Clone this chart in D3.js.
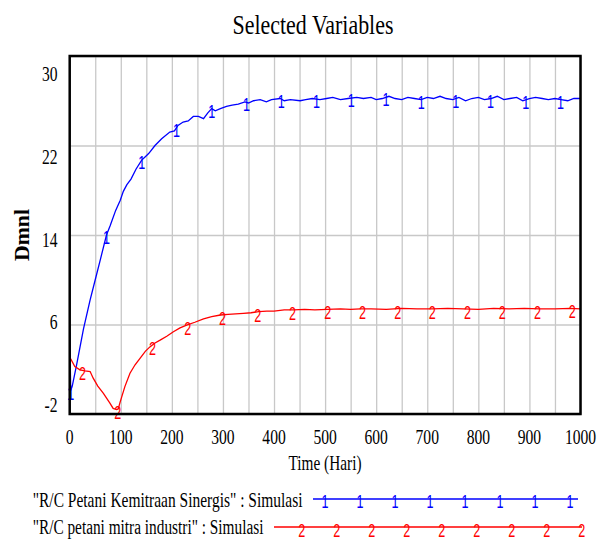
<!DOCTYPE html>
<html><head><meta charset="utf-8">
<script src="https://cdn.jsdelivr.net/npm/d3@7"></script>
<style>html,body{margin:0;padding:0;background:#fff;}</style>
</head><body>
<svg id="chart" width="599" height="540"></svg>
<script>
// ---- data ----
const titleText = "Selected Variables";
const xLabel = "Time (Hari)";
const yLabel = "Dmnl";
const xTicks = [0,100,200,300,400,500,600,700,800,900,1000];
const xGrid = [0,50,100,150,200,250,300,350,400,450,500,550,600,650,700,750,800,850,900,950,1000];
const yTicks = [-2,6,14,22,30];
const seriesNames = ["\"R/C Petani Kemitraan Sinergis\" : Simulasi", "\"R/C petani mitra industri\" : Simulasi"];
const seriesMarks = ["1","2"];
const seriesColors = ["#0000ff","#ff0000"];

const blueT = [0,2,5,14,27,40,50,60,72,79,90,99,105,112,120,130,141,148,155,167,180,196,205,212,222,232,242,252,262,270,278,285,295,307,318,330,343,350,360,373,385,395,412,420,432,451,462,475,490,503,515,530,545,562,575,590,600,612,625,637,650,662,675,688,700,712,725,737,750,762,775,787,800,812,825,837,850,862,875,887,900,912,925,937,950,962,975,987,1000];
const blueV = [5.3,0.1,0.5,2.5,5.6,8.2,10.0,11.8,14.0,14.8,16.2,17.1,17.9,18.5,19.0,19.9,20.7,21.0,21.3,22.0,22.6,23.2,23.3,23.8,24.1,24.2,24.6,24.6,24.4,24.9,25.3,25.1,25.3,25.5,25.6,25.7,25.9,25.8,26.0,26.1,25.9,26.1,26.2,26.0,26.1,26.0,26.1,26.2,26.1,26.2,26.3,26.1,26.2,26.3,26.2,26.3,26.1,26.2,26.4,26.2,26.1,26.3,26.2,26.1,26.3,26.2,26.4,26.2,26.1,26.3,26.0,26.2,26.3,26.1,26.2,26.4,26.1,26.2,26.3,26.0,26.2,26.3,26.2,26.1,26.2,26.1,26.0,26.2,26.2];

const redT = [0,10,20,30,40,46,55,66,79,85,92,95,99,108,118,128,138,148,157,167,177,190,203,216,229,245,262,278,295,310,325,340,355,370,386,400,420,438,460,480,504,530,550,569,590,620,650,680,710,740,770,800,830,860,890,920,950,980,1000];
const redV = [3.1,2.25,1.95,1.85,1.8,1.2,0.5,-0.15,-1.05,-1.5,-1.6,-1.55,-0.9,0.45,1.65,2.4,3.0,3.6,4.0,4.35,4.6,4.95,5.35,5.7,5.95,6.2,6.5,6.7,6.85,6.9,6.95,7.0,7.05,7.15,7.2,7.2,7.3,7.3,7.35,7.3,7.35,7.4,7.35,7.4,7.4,7.35,7.45,7.4,7.4,7.45,7.4,7.35,7.45,7.4,7.45,7.4,7.4,7.45,7.4];

// marker times along each series
const blueMarkT = [2,72,141,209,278,346,414,483,551,619,688,756,824,893,961];
const redMarkT = [25,94,162,231,299,368,436,505,573,642,710,779,847,916,984];

// ---- layout ----
const svg = d3.select("#chart");
const L = 69.7, R = 580.5, T = 56, B = 414;
const x = d3.scaleLinear().domain([0,1000]).range([L,R]);
const y = d3.scaleLinear().domain([-2,30]).range([B,T]);
const yLab = d3.scaleLinear().domain([30,-2]).range([81,412]);
const SERIF = "Liberation Serif, Times New Roman, serif";
const SANS = "Liberation Sans, Arial, sans-serif";

function txt(g, s, px, py, o){
  const t = g.append("text")
    .attr("text-anchor", o.anchor||"start")
    .attr("font-family", o.family||SERIF)
    .attr("font-size", o.size||20)
    .attr("font-weight", o.weight||"normal")
    .attr("fill", o.fill||"#000")
    .text(s);
  let sx = o.sx||1;
  if(o.w){ const nat = t.node().getComputedTextLength(); sx = o.w/nat; }
  t.attr("transform", `translate(${px},${py})` + (o.rot?` rotate(${o.rot})`:"") + ` scale(${sx},1)`);
  return t;
}

// gridlines
const grid = svg.append("g");
grid.append("g").attr("transform",`translate(0,${B})`)
  .call(d3.axisBottom(x).tickValues(xGrid).tickSize(-(B-T)).tickFormat(""))
  .call(g=>g.select(".domain").remove())
  .call(g=>g.selectAll("line").attr("stroke","#c8c8c8").attr("stroke-width",1.3));
grid.append("g").attr("transform",`translate(${L},0)`)
  .call(d3.axisLeft(y).tickValues(yTicks).tickSize(-(R-L)).tickFormat(""))
  .call(g=>g.select(".domain").remove())
  .call(g=>g.selectAll("line").attr("stroke","#c8c8c8").attr("stroke-width",1.3));

// series
const series = [
  {t:blueT, v:blueV, mt:blueMarkT},
  {t:redT, v:redV, mt:redMarkT}
];
const line = d3.line().x(d=>x(d[0])).y(d=>y(d[1]));
function interp(s, tt){
  const i = d3.bisectLeft(s.t, tt);
  if(i<=0) return s.v[0];
  if(i>=s.t.length) return s.v[s.v.length-1];
  const t0=s.t[i-1], t1=s.t[i], v0=s.v[i-1], v1=s.v[i];
  return v0 + (v1-v0)*(tt-t0)/(t1-t0);
}
const pg = svg.append("g");
series.forEach((s,k)=>{
  const pts = s.t.map((t,i)=>[t,s.v[i]]);
  pg.append("path").attr("d",line(pts)).attr("fill","none")
    .attr("stroke",seriesColors[k]).attr("stroke-width",1.3);
});
series.forEach((s,k)=>{
  s.mt.forEach(mt=>{
    const py = y(interp(s,mt));
    txt(pg, seriesMarks[k], x(mt), py + (k===0?9:10), {family:SANS, size:18, sx:0.7, anchor:"middle", fill:seriesColors[k]});
  });
});

// frame
svg.append("rect").attr("x",L).attr("y",T).attr("width",R-L).attr("height",B-T)
  .attr("fill","none").attr("stroke","#000").attr("stroke-width",2.5);

// tick labels
xTicks.forEach(v=>txt(svg, String(v), x(v), 444, {size:20, sx:0.78, anchor:"middle"}));
yTicks.forEach(v=>txt(svg, String(v), 57.5, yLab(v), {size:20, sx:0.78, anchor:"end"}));

// titles
txt(svg, titleText, 313, 34, {size:28, w:161, anchor:"middle"});
txt(svg, xLabel, 325, 470, {size:20, w:73, anchor:"middle"});
txt(svg, yLabel, 28.5, 235, {size:20, w:52, anchor:"middle", weight:"bold", rot:-90});

// legend
const lg = svg.append("g");
const legRows = [
  {ty:507, ly:499, x0:313, x1:578, mx0:325, n:8, w:270},
  {ty:534, ly:527, x0:274, x1:582, mx0:301.7, n:9, w:231}
];
legRows.forEach((r,k)=>{
  txt(lg, seriesNames[k], 32.7, r.ty, {size:20, w:r.w});
  lg.append("line").attr("x1",r.x0).attr("x2",r.x1).attr("y1",r.ly).attr("y2",r.ly)
    .attr("stroke",seriesColors[k]).attr("stroke-width",1.3);
  d3.range(r.n).forEach(j=>{
    txt(lg, seriesMarks[k], r.mx0 + 35*j, r.ly + (k===0?9:10), {family:SANS, size:18, sx:0.7, anchor:"middle", fill:seriesColors[k]});
  });
});
</script>
</body></html>
